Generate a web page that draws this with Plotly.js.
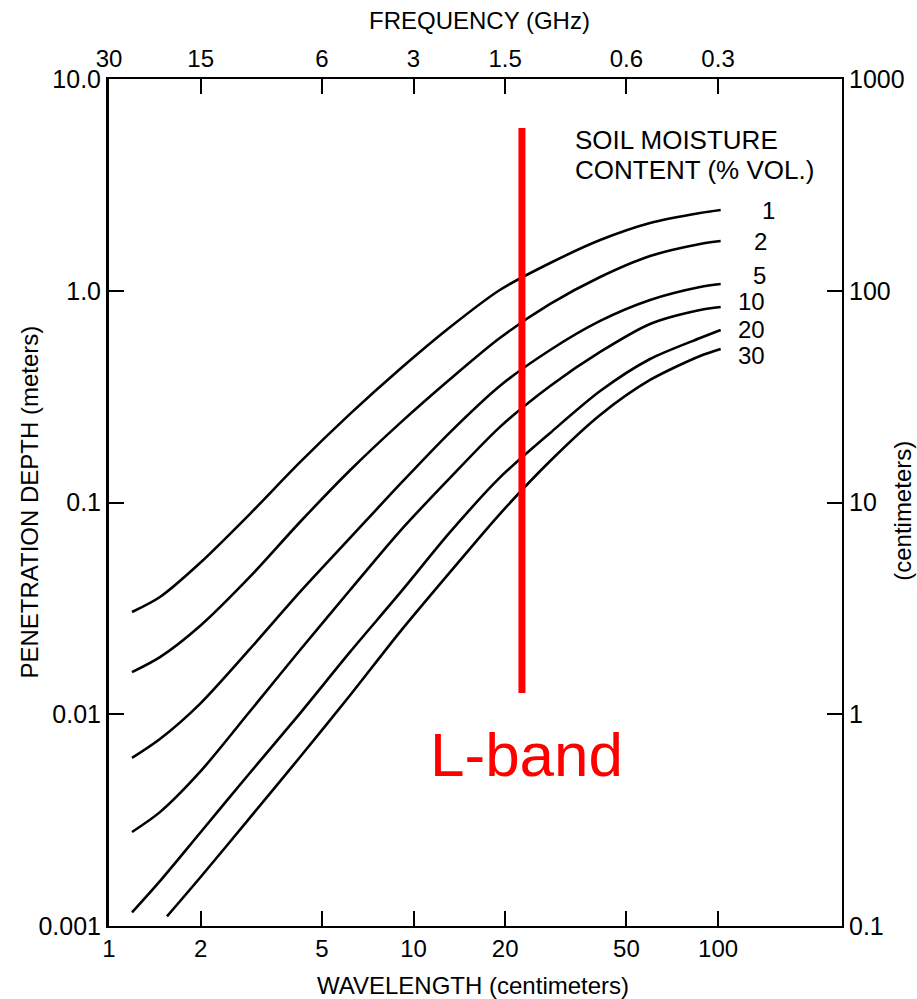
<!DOCTYPE html>
<html>
<head>
<meta charset="utf-8">
<script src="https://cdn.plot.ly/plotly-3.0.1.min.js"></script>
<style>
html,body{margin:0;padding:0;background:#fff;}
#chart{width:917px;height:999px;}
</style>
</head>
<body>
<div id="chart"></div>
<script>
// ---- data (wavelength in cm, penetration depth in m) ----
const MOISTURE_LABELS = ['1', '2', '5', '10', '20', '30'];

const WL_1 = [1.19, 1.47, 1.99, 2.90, 4.24, 6.19, 9.03, 13.2, 19.2, 28.1, 41.0, 59.8, 87.3, 102];
const PD_1 = [0.0304, 0.0358, 0.0518, 0.0882, 0.155, 0.262, 0.427, 0.674, 1.008, 1.352, 1.736, 2.089, 2.329, 2.406];

const WL_2 = [1.19, 1.47, 1.99, 2.90, 4.24, 6.19, 9.03, 13.2, 19.2, 28.1, 41.0, 59.8, 87.3, 102];
const PD_2 = [0.0158, 0.0186, 0.0261, 0.0445, 0.0809, 0.142, 0.237, 0.383, 0.598, 0.866, 1.161, 1.459, 1.663, 1.718];

const WL_5 = [1.19, 1.47, 1.99, 2.90, 4.24, 6.19, 9.03, 13.2, 19.2, 28.1, 41.0, 59.8, 87.3, 102];
const PD_5 = [0.00622, 0.00764, 0.0112, 0.0203, 0.0378, 0.0680, 0.122, 0.215, 0.355, 0.525, 0.720, 0.904, 1.041, 1.076];

const WL_10 = [1.19, 1.47, 1.99, 2.90, 4.24, 6.19, 9.03, 13.2, 19.2, 28.1, 41.0, 59.8, 87.3, 102];
const PD_10 = [0.00278, 0.00345, 0.00534, 0.0103, 0.0201, 0.0386, 0.0733, 0.131, 0.227, 0.355, 0.514, 0.697, 0.811, 0.838];

const WL_20 = [1.19, 1.47, 1.99, 2.90, 4.24, 6.19, 9.03, 13.2, 19.2, 28.1, 41.0, 59.8, 87.3, 102];
const PD_20 = [0.00116, 0.00163, 0.00275, 0.00528, 0.0101, 0.0197, 0.0374, 0.0726, 0.131, 0.213, 0.336, 0.476, 0.598, 0.653];

const WL_30 = [1.55, 1.99, 2.90, 4.24, 6.19, 9.03, 13.2, 19.2, 28.1, 41.0, 59.8, 87.3, 102];
const PD_30 = [0.00111, 0.00169, 0.00324, 0.00628, 0.0123, 0.0245, 0.0470, 0.0882, 0.157, 0.259, 0.379, 0.492, 0.531];

// L-band marker (wavelength cm, depth span m)
const LBAND_CM = [22.7, 22.7];
const LBAND_DEPTH = [5.87, 0.0126];

// tick values / labels
const WL_TICKS = [1, 2, 5, 10, 20, 50, 100];
const WL_TICKTEXT = ['1', '2', '5', '10', '20', '50', '100'];
const FREQ_TICKTEXT = ['30', '15', '6', '3', '1.5', '0.6', '0.3'];
const DEPTH_M_TICKS = [0.001, 0.01, 0.1, 1, 10];
const DEPTH_M_TICKTEXT = ['0.001', '0.01', '0.1', '1.0', '10.0'];
const DEPTH_CM_TICKS = [0.1, 1, 10, 100, 1000];
const DEPTH_CM_TICKTEXT = ['0.1', '1', '10', '100', '1000'];

// ---- figure ----
const FONT = 'Liberation Sans, Arial, Helvetica, sans-serif';
const series = [[WL_1, PD_1], [WL_2, PD_2], [WL_5, PD_5], [WL_10, PD_10], [WL_20, PD_20], [WL_30, PD_30]];

const traces = series.map((s, i) => ({
  x: s[0], y: s[1], type: 'scatter', mode: 'lines',
  name: MOISTURE_LABELS[i] + '%',
  line: {color: '#000', width: 2.6, shape: 'spline', smoothing: 0.8},
  hoverinfo: 'skip', showlegend: false
}));
traces.push({
  x: LBAND_CM, y: LBAND_DEPTH, type: 'scatter', mode: 'lines',
  line: {color: '#ff0000', width: 7}, showlegend: false, hoverinfo: 'skip'
});
// empty trace so that the secondary (top / right) axes are drawn
traces.push({x: [], y: [], type: 'scatter', mode: 'lines', xaxis: 'x2', yaxis: 'y2',
  showlegend: false, hoverinfo: 'skip'});

const axBase = {
  type: 'log', showgrid: false, zeroline: false, showline: true,
  linecolor: '#000', linewidth: 2, ticks: 'inside', ticklen: 15, tickwidth: 2,
  tickcolor: '#000', tickmode: 'array', fixedrange: true,
  tickfont: {family: FONT, size: 24, color: '#000'}
};

const X_RANGE = [0, 2.407];

const layout = {
  width: 917, height: 999,
  margin: {l: 109, r: 75, t: 79, b: 73, pad: 0},
  paper_bgcolor: '#fff', plot_bgcolor: '#fff',
  showlegend: false,
  xaxis: Object.assign({}, axBase, {range: X_RANGE, tickvals: WL_TICKS, ticktext: WL_TICKTEXT}),
  xaxis2: Object.assign({}, axBase, {range: X_RANGE, tickvals: WL_TICKS, ticktext: FREQ_TICKTEXT,
    overlaying: 'x', side: 'top', anchor: 'y'}),
  yaxis: Object.assign({}, axBase, {range: [-3, 1], tickvals: DEPTH_M_TICKS, ticktext: DEPTH_M_TICKTEXT,
    linewidth: 3, tickfont: {family: FONT, size: 25, color: '#000'}}),
  yaxis2: Object.assign({}, axBase, {range: [-1, 3], tickvals: DEPTH_CM_TICKS, ticktext: DEPTH_CM_TICKTEXT,
    overlaying: 'y', side: 'right', anchor: 'x', tickfont: {family: FONT, size: 25, color: '#000'}}),
  annotations: [
    {text: 'FREQUENCY (GHz)', xref: 'paper', yref: 'paper', x: 0.505, y: 1.069, xanchor: 'center', yanchor: 'middle',
      showarrow: false, font: {family: FONT, size: 24, color: '#000'}},
    {text: 'WAVELENGTH (centimeters)', xref: 'paper', yref: 'paper', x: 0.497, y: -0.070, xanchor: 'center', yanchor: 'middle',
      showarrow: false, font: {family: FONT, size: 24, color: '#000'}},
    {text: 'PENETRATION DEPTH (meters)', xref: 'paper', yref: 'paper', x: -0.109, y: 0.50, xanchor: 'center', yanchor: 'middle',
      textangle: -90, showarrow: false, font: {family: FONT, size: 24, color: '#000'}},
    {text: '(centimeters)', xref: 'paper', yref: 'paper', x: 1.083, y: 0.49, xanchor: 'center', yanchor: 'middle',
      textangle: -90, showarrow: false, font: {family: FONT, size: 24, color: '#000'}},
    {text: 'SOIL MOISTURE', xref: 'paper', yref: 'paper', x: 0.633, y: 0.928, xanchor: 'left', yanchor: 'middle',
      showarrow: false, font: {family: FONT, size: 26, color: '#000'}},
    {text: 'CONTENT (% VOL.)', xref: 'paper', yref: 'paper', x: 0.633, y: 0.8926, xanchor: 'left', yanchor: 'middle',
      showarrow: false, font: {family: FONT, size: 26, color: '#000'}},
    {text: MOISTURE_LABELS[0], xref: 'paper', yref: 'paper', x: 0.9, y: 0.8453, xanchor: 'center', yanchor: 'middle', showarrow: false, font: {family: FONT, size: 24, color: '#000'}},
    {text: MOISTURE_LABELS[1], xref: 'paper', yref: 'paper', x: 0.889, y: 0.8087, xanchor: 'center', yanchor: 'middle', showarrow: false, font: {family: FONT, size: 24, color: '#000'}},
    {text: MOISTURE_LABELS[2], xref: 'paper', yref: 'paper', x: 0.888, y: 0.7680, xanchor: 'center', yanchor: 'middle', showarrow: false, font: {family: FONT, size: 24, color: '#000'}},
    {text: MOISTURE_LABELS[3], xref: 'paper', yref: 'paper', x: 0.877, y: 0.7370, xanchor: 'center', yanchor: 'middle', showarrow: false, font: {family: FONT, size: 24, color: '#000'}},
    {text: MOISTURE_LABELS[4], xref: 'paper', yref: 'paper', x: 0.877, y: 0.7048, xanchor: 'center', yanchor: 'middle', showarrow: false, font: {family: FONT, size: 24, color: '#000'}},
    {text: MOISTURE_LABELS[5], xref: 'paper', yref: 'paper', x: 0.877, y: 0.6730, xanchor: 'center', yanchor: 'middle', showarrow: false, font: {family: FONT, size: 24, color: '#000'}},
    {text: 'L-band', xref: 'paper', yref: 'paper', x: 0.570, y: 0.2019, xanchor: 'center', yanchor: 'middle',
      showarrow: false, font: {family: FONT, size: 62, color: '#ff0000'}}
  ]
};

Plotly.newPlot('chart', traces, layout, {displayModeBar: false, staticPlot: true});
</script>
</body>
</html>
